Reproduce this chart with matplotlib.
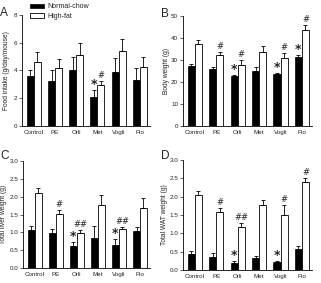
import numpy as np
import matplotlib
matplotlib.use("Agg")
import matplotlib.pyplot as plt
from matplotlib.patches import Patch

groups = ["Control", "PE", "Orli", "Met", "Vogli", "Pio"]

# panel A: food intake (g/day/mouse)
food_nc = [3.6, 3.25, 4.0, 2.1, 3.9, 3.3]
food_nc_err = [0.4, 0.8, 1.0, 0.5, 0.98, 0.85]
food_hf = [4.6, 4.15, 5.15, 2.98, 5.43, 4.28]
food_hf_err = [0.75, 0.65, 0.8, 0.27, 0.87, 0.67]
food_nc_mark = ["", "", "", "*", "", ""]
food_hf_mark = ["", "", "", "#", "", ""]

# panel B: body weight (g)
bw_nc = [27.5, 26.1, 22.7, 24.9, 23.6, 31.6]
bw_nc_err = [0.9, 0.9, 0.6, 2.1, 0.6, 0.7]
bw_hf = [37.5, 32.5, 27.6, 33.7, 31.0, 43.8]
bw_hf_err = [1.8, 1.2, 2.3, 2.7, 2.2, 2.0]
bw_nc_mark = ["", "", "*", "", "*", "*"]
bw_hf_mark = ["", "#", "#", "", "#", "#"]

# panel C: total liver weight (g)
liv_nc = [1.07, 0.97, 0.62, 0.85, 0.65, 1.03]
liv_nc_err = [0.11, 0.12, 0.11, 0.33, 0.17, 0.11]
liv_hf = [2.09, 1.51, 0.99, 1.78, 1.10, 1.67]
liv_hf_err = [0.16, 0.11, 0.08, 0.26, 0.05, 0.28]
liv_nc_mark = ["", "", "*", "", "*", ""]
liv_hf_mark = ["", "#", "##", "", "##", ""]

# panel D: total WAT weight (g)
wat_nc = [0.43, 0.35, 0.20, 0.32, 0.22, 0.58]
wat_nc_err = [0.09, 0.10, 0.04, 0.07, 0.03, 0.07]
wat_hf = [2.03, 1.59, 1.18, 1.77, 1.49, 2.41]
wat_hf_err = [0.13, 0.09, 0.09, 0.13, 0.28, 0.10]
wat_nc_mark = ["", "", "*", "", "*", ""]
wat_hf_mark = ["", "#", "##", "", "#", "#"]

plt.rcParams["font.family"] = ["Liberation Sans", "DejaVu Sans"]
W, H = 321, 283
fig = plt.figure(figsize=(W / 100, H / 100), dpi=100)
TC = "#222222"
FS = 4.5

def panel(rect, nc, nce, hf, hfe, ncm, hfm, ymax, step, ylabel, letter, letter_xy, fmt, ylab_x):
    ax = fig.add_axes(rect)
    x = np.arange(len(groups))
    w = 0.33
    ekw = dict(lw=0.6, capsize=1.3, capthick=0.6, ecolor="black")
    ax.bar(x - w / 2, nc, w, color="black", edgecolor="black", lw=0.5,
           yerr=[np.zeros(len(nc)), nce], error_kw=ekw)
    ax.bar(x + w / 2, hf, w, color="white", edgecolor="black", lw=0.6,
           yerr=[np.zeros(len(hf)), hfe], error_kw=ekw)
    for i in range(len(groups)):
        if ncm[i]:
            ax.text(x[i] - w / 2, nc[i] + nce[i] - ymax * 0.01, ncm[i], ha="center",
                    va="bottom", fontsize=9, fontweight="bold", color=TC,
                    family="DejaVu Sans")
        if hfm[i]:
            ax.text(x[i] + w / 2, hf[i] + hfe[i] + ymax * 0.01, hfm[i], ha="center",
                    va="bottom", fontsize=6, color=TC, family="DejaVu Sans")
    ax.set_xlim(-0.55, 5.47)
    ax.set_ylim(0, ymax)
    ax.set_yticks(np.arange(0, ymax + step / 2, step))
    ax.yaxis.set_major_formatter(matplotlib.ticker.FormatStrFormatter(fmt))
    ax.set_xticks(x)
    ax.set_xticklabels(groups)
    ax.tick_params(axis="x", length=0, pad=3, labelsize=FS, colors=TC)
    ax.tick_params(axis="y", length=2, width=0.5, pad=1.5, labelsize=FS, colors=TC)
    for s in ("top", "right"):
        ax.spines[s].set_visible(False)
    for s in ("left", "bottom"):
        ax.spines[s].set_linewidth(0.6)
    ax.set_ylabel(ylabel, fontsize=4.8, color=TC)
    # label x position given in figure pixels
    ax.yaxis.set_label_coords((ylab_x / W - rect[0]) / rect[2], 0.5)
    fig.text(letter_xy[0] / W, 1 - letter_xy[1] / H, letter, fontsize=8.5, color=TC,
             ha="left", va="top")
    return ax

axA = panel([0.069, 0.555, 0.398, 0.392], food_nc, food_nc_err, food_hf, food_hf_err,
            food_nc_mark, food_hf_mark, 8, 2, "Food intake (g/day/mouse)", "A", (0, 7),
            "%d", 10)
axB = panel([0.570, 0.555, 0.402, 0.388], bw_nc, bw_nc_err, bw_hf, bw_hf_err,
            bw_nc_mark, bw_hf_mark, 50, 10, "Body weight (g)", "B", (161, 8),
            "%d", 170)
axC = panel([0.072, 0.053, 0.395, 0.378], liv_nc, liv_nc_err, liv_hf, liv_hf_err,
            liv_nc_mark, liv_hf_mark, 3.0, 0.5, "Total liver weight (g)", "C", (0, 150),
            "%.1f", 7)
axD = panel([0.570, 0.046, 0.402, 0.389], wat_nc, wat_nc_err, wat_hf, wat_hf_err,
            wat_nc_mark, wat_hf_mark, 3.0, 0.5, "Total WAT weight (g)", "D", (161, 150),
            "%.1f", 168)

handles = [Patch(facecolor="black", edgecolor="black", lw=0.5),
           Patch(facecolor="white", edgecolor="black", lw=0.6)]
fig.legend(handles, ["Normal-chow", "High-fat"], loc="upper left",
           bbox_to_anchor=(27 / W, 1.0), frameon=False, fontsize=5,
           handlelength=2.0, handleheight=0.7, handletextpad=0.4, labelspacing=0.3,
           labelcolor=TC, borderaxespad=0.1)

fig.savefig("out.png", dpi=100)
